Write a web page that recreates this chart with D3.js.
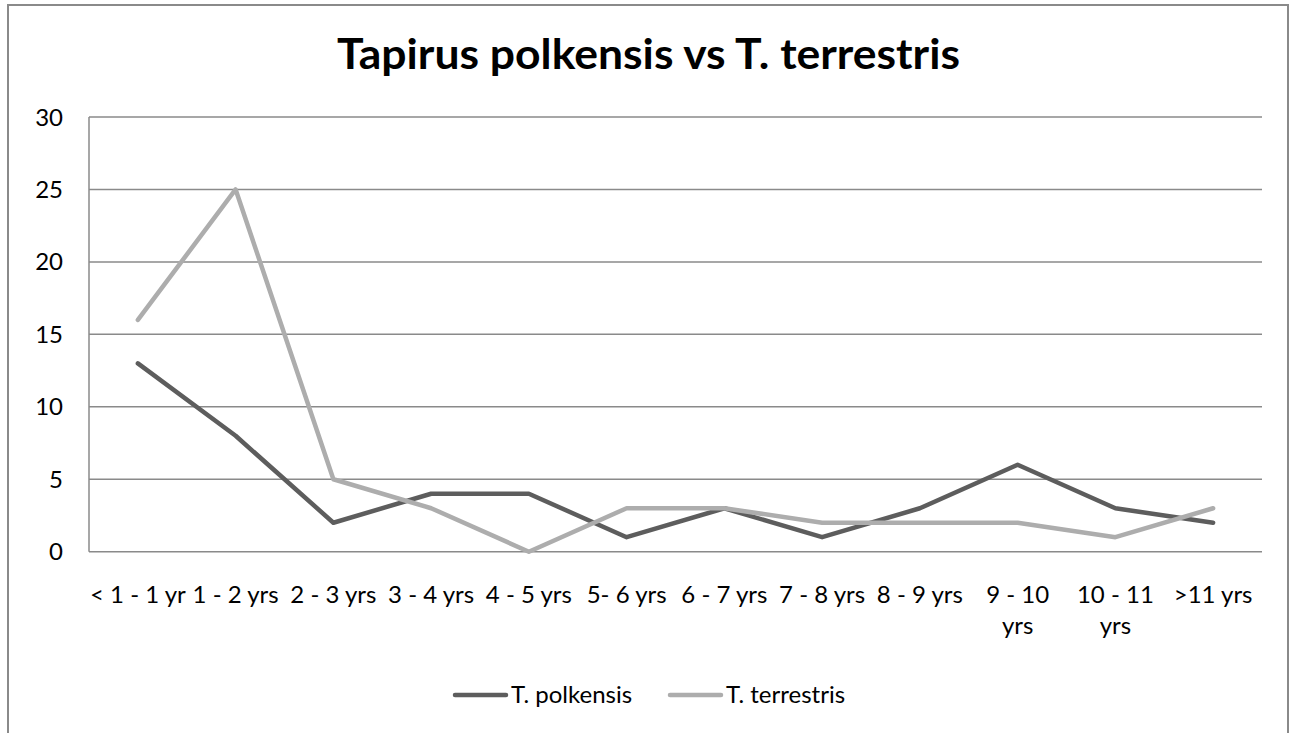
<!DOCTYPE html>
<html>
<head>
<meta charset="utf-8">
<script src="https://cdn.jsdelivr.net/npm/d3@7"></script>
<style>
  html, body { margin: 0; padding: 0; background: #fff; }
  svg { display: block; }
  text { font-family: Lato, "Open Sans", sans-serif; fill: #000; }
</style>
</head>
<body>
<svg id="chart" width="1291" height="733"></svg>
<script>
const title = "Tapirus polkensis vs T. terrestris";
const categories = ["< 1 - 1 yr", "1 - 2 yrs", "2 - 3 yrs", "3 - 4 yrs", "4 - 5 yrs", "5- 6 yrs",
  "6 - 7 yrs", "7 - 8 yrs", "8 - 9 yrs", "9 - 10\nyrs", "10 - 11\nyrs", ">11 yrs"];
const seriesNames = ["T. polkensis", "T. terrestris"];
const polkensis = [13, 8, 2, 4, 4, 1, 3, 1, 3, 6, 3, 2];
const terrestris = [16, 25, 5, 3, 0, 3, 3, 2, 2, 2, 1, 3];
const yTicks = [0, 5, 10, 15, 20, 25, 30];
const colors = ["#5d5d5d", "#adadad"];

const svg = d3.select("#chart");
const plot = { left: 89, right: 1262, top: 117, bottom: 551.7 };
const fs = 24;

// outer border
svg.append("rect").attr("x", 8).attr("y", 5).attr("width", 1280).attr("height", 760)
  .attr("fill", "none").attr("stroke", "#8a8a8a").attr("stroke-width", 2);

// title
svg.append("text").attr("x", 648.5).attr("y", 69).attr("text-anchor", "middle")
  .attr("font-size", 42).attr("font-weight", "bold")
  .attr("textLength", 623).attr("lengthAdjust", "spacingAndGlyphs")
  .text(title);

const x = d3.scaleBand().domain(d3.range(categories.length)).range([plot.left, plot.right]);
const y = d3.scaleLinear().domain([0, 30]).range([plot.bottom, plot.top]);

// gridlines
svg.append("g").selectAll("line").data(yTicks).join("line")
  .attr("x1", plot.left).attr("x2", plot.right)
  .attr("y1", d => y(d)).attr("y2", d => y(d))
  .attr("stroke", "#8a8a8a").attr("stroke-width", 1.5);

// left axis line
svg.append("line").attr("x1", plot.left).attr("x2", plot.left)
  .attr("y1", plot.top).attr("y2", plot.bottom)
  .attr("stroke", "#8a8a8a").attr("stroke-width", 1.5);

// y tick labels
svg.append("g").selectAll("text").data(yTicks).join("text")
  .attr("x", 63).attr("y", d => y(d) + 8.5).attr("text-anchor", "end")
  .attr("font-size", fs).text(d => d);

// x labels
const xl = svg.append("g").selectAll("text").data(categories).join("text")
  .attr("text-anchor", "middle").attr("font-size", fs)
  .attr("transform", (d, i) => `translate(${x(i) + x.bandwidth() / 2},603)`);
xl.each(function(d) {
  const lines = d.split("\n");
  d3.select(this).selectAll("tspan").data(lines).join("tspan")
    .attr("x", 0).attr("y", (l, j) => j * 31).text(l => l);
});

// lines
const line = d3.line().x((d, i) => x(i) + x.bandwidth() / 2).y(d => y(d));
[polkensis, terrestris].forEach((s, k) => {
  svg.append("path").datum(s).attr("d", line)
    .attr("fill", "none").attr("stroke", colors[k]).attr("stroke-width", 4.5)
    .attr("stroke-linejoin", "round").attr("stroke-linecap", "round");
});

// legend
const legendX = [453, 668];
seriesNames.forEach((n, k) => {
  svg.append("line").attr("x1", legendX[k] + 2).attr("x2", legendX[k] + 53)
    .attr("y1", 695).attr("y2", 695)
    .attr("stroke", colors[k]).attr("stroke-width", 4.5).attr("stroke-linecap", "round");
  svg.append("text").attr("x", legendX[k] + 58).attr("y", 703)
    .attr("font-size", fs).text(n);
});
</script>
</body>
</html>
